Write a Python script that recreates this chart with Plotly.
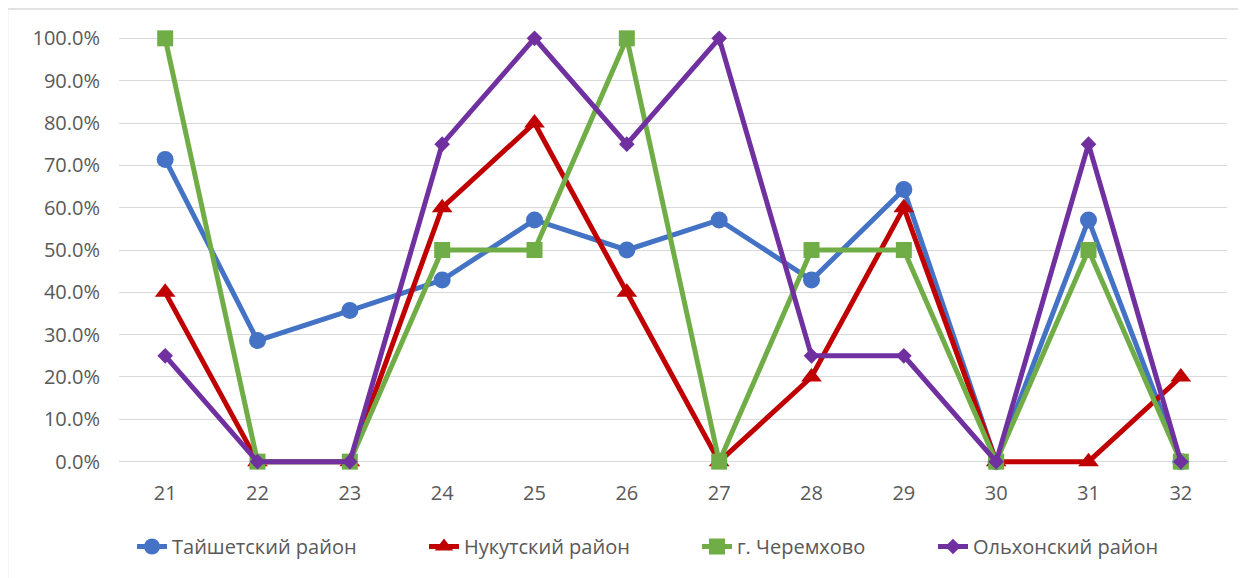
import plotly.graph_objects as go

categories = [21, 22, 23, 24, 25, 26, 27, 28, 29, 30, 31, 32]
series_names = ["Тайшетский район", "Нукутский район", "г. Черемхово", "Ольхонский район"]
taishet = [71.4, 28.6, 35.7, 42.9, 57.1, 50.0, 57.1, 42.9, 64.3, 0.0, 57.1, 0.0]
nukut = [40.0, 0.0, 0.0, 60.0, 80.0, 40.0, 0.0, 20.0, 60.0, 0.0, 0.0, 20.0]
cheremkhovo = [100.0, 0.0, 0.0, 50.0, 50.0, 100.0, 0.0, 50.0, 50.0, 0.0, 50.0, 0.0]
olkhon = [25.0, 0.0, 0.0, 75.0, 100.0, 75.0, 100.0, 25.0, 25.0, 0.0, 75.0, 0.0]
y_ticks = [0, 10, 20, 30, 40, 50, 60, 70, 80, 90, 100]

colors = ["#4472C4", "#C00000", "#70AD47", "#7030A0"]
symbols = ["circle", "triangle-up", "square", "diamond"]
sizes = [17, 18, 16, 12]
values = [taishet, nukut, cheremkhovo, olkhon]
legend_ids = ["legend", "legend2", "legend3", "legend4"]

# page is offset by the default 8px body margin
OFF = 8
W, H = 1246, 578
PAD = 1.5                      # small value padding so thick lines at 0/100 are not clipped
UNIT = (462 - 38) / 100.0      # pixels per percent
# plot area in page pixels
PL, PR = 119, 1227
PT, PB = 38 - PAD * UNIT, 462 + PAD * UNIT
L, T = PL - OFF, PT - OFF
R = W - (PR - OFF)
B = H - (PB - OFF)
pw, ph = PR - PL, PB - PT

def px_x(p):
    return (p - PL) / pw

def px_y(p):
    return (PB - p) / ph

fig = go.Figure()
for name, vals, c, s, sz, lg in zip(series_names, values, colors, symbols, sizes, legend_ids):
    fig.add_trace(go.Scatter(
        x=categories, y=vals, name=name, mode="lines+markers",
        line=dict(color=c, width=5),
        marker=dict(symbol=s, size=sz, color=c, line=dict(width=0)),
        legend=lg, cliponaxis=False,
    ))

font = dict(family="Open Sans", size=20, color="#595959")
text_starts = [172, 464, 737, 973]
legends = {}
for lg, ts in zip(legend_ids, text_starts):
    legends[lg] = dict(
        x=px_x(ts - 40), y=px_y(547), xanchor="left", yanchor="middle",
        orientation="h", font=font, bgcolor="rgba(0,0,0,0)", borderwidth=0,
    )

fig.update_layout(
    width=W, height=H,
    margin=dict(l=int(round(L)), r=int(round(R)), t=T, b=B),
    paper_bgcolor="white", plot_bgcolor="white",
    font=font,
    showlegend=True,
    xaxis=dict(
        range=[20.5, 32.5], tickvals=categories, ticktext=[str(c) for c in categories],
        showgrid=False, zeroline=False, showline=False,
        ticks="outside", ticklen=7, tickcolor="rgba(0,0,0,0)",
        tickfont=font, fixedrange=True,
    ),
    yaxis=dict(
        range=[-PAD, 100 + PAD], tickvals=y_ticks, ticktext=[f"{v:.1f}%" for v in y_ticks],
        showgrid=True, gridcolor="#D9D9D9", gridwidth=1,
        zeroline=False, showline=False,
        ticks="outside", ticklen=14, tickcolor="rgba(0,0,0,0)",
        tickfont=font, fixedrange=True,
    ),
    shapes=[
        dict(type="line", xref="paper", yref="paper",
             x0=px_x(7.5), x1=px_x(7.5), y0=px_y(8.5), y1=px_y(H + 5),
             line=dict(color="#D9D9D9", width=1.5)),
        dict(type="line", xref="paper", yref="paper",
             x0=px_x(7.5), x1=px_x(W + 5), y0=px_y(8.5), y1=px_y(8.5),
             line=dict(color="#D9D9D9", width=1.5)),
    ],
    **legends,
)

fig.write_html("out.html")
